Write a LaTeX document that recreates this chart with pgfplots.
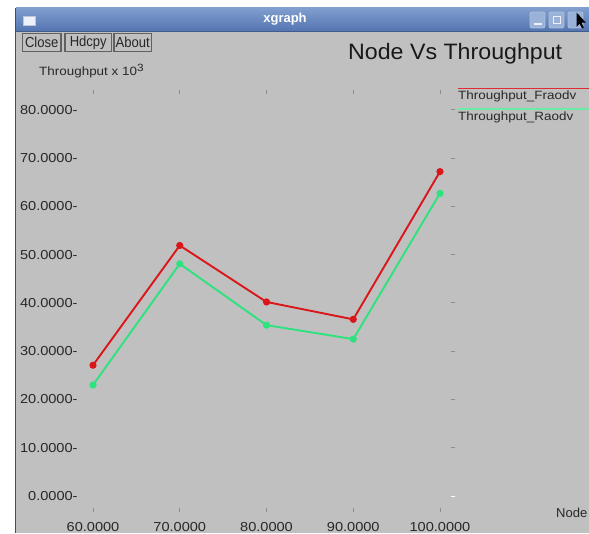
\documentclass[border=0pt]{standalone}
\usepackage{pgfplots}
\pgfplotsset{compat=1.18}
\usepackage{fontspec}
\setmainfont{Liberation Sans}
\newfontfamily\tickfont[FakeStretch=1.12]{Liberation Sans}
\newfontfamily\titlefont[FakeStretch=1.04]{Liberation Sans}
\newfontfamily\btnfont[FakeStretch=0.9]{Liberation Sans}

\definecolor{winGray}{RGB}{192,192,192}
\definecolor{tbTop}{RGB}{128,158,206}
\definecolor{tbBot}{RGB}{82,116,176}
\definecolor{lineRed}{RGB}{218,22,26}
\definecolor{lineGreen}{RGB}{46,226,126}
\definecolor{txt}{RGB}{40,40,40}

\begin{document}
\begin{tikzpicture}[x=1pt,y=1pt]
\useasboundingbox (0,0) rectangle (589,533);
\fill[white] (0,0) rectangle (589,533);

% window body and frame
\fill[winGray] (15,0) rectangle (589,525);
\draw[black!70, line width=1.2pt] (15.6,0) -- (15.6,525);

% title bar
\shade[top color=tbTop, bottom color=tbBot] (16.2,501.5) rectangle (589,525);
\draw[tbBot!80!black, line width=0.6pt] (16.2,501.5) -- (589,501.5);
\node[white, font=\bfseries\fontsize{13}{15}\selectfont] at (285,513.5) {xgraph};
% window menu icon
\fill[white!85!tbTop, draw=white!60!tbBot, line width=0.6pt] (23,507.5) rectangle (35,516.5);
% title bar controls
\foreach \xa in {530,549,568}{
  \fill[tbTop!80!white, draw=white!55!tbBot, line width=0.8pt, rounded corners=2pt]
    (\xa,505) rectangle ++(15,16);
}
\draw[white!85!tbTop, line width=1.4pt] (533.5,509) -- (541.5,509);
\draw[white!85!tbTop, line width=1pt] (553,509) rectangle (560,516);
\fill[black] (576.5,520.5) -- (576.5,506) -- (579.6,509.4) -- (582,504.5) -- (583.8,505.4) -- (581.5,510.2) -- (585.8,510.5) -- cycle;

% xgraph buttons
\foreach \xa/\xb/\lbl in {22.5/61/Close, 65/111.5/Hdcpy, 114/151.5/About}{
  \draw[black!62, line width=1.3pt] (\xa,481.5) rectangle (\xb,499.5);
  \node[txt, font=\btnfont\fontsize{14.5}{16}\selectfont, inner sep=0pt]
    at ({(\xa+\xb)/2},490.3) {\lbl};
}

% y unit label and title
\node[txt, anchor=base west, inner sep=0pt, font=\tickfont\fontsize{12}{14}\selectfont]
  at (39,457) {Throughput x 10\raisebox{4.5pt}{\fontsize{10.5}{12}\selectfont 3}};
\node[black!90, anchor=base west, inner sep=0pt, font=\titlefont\fontsize{22.3}{26}\selectfont]
  at (348,473.7) {Node Vs Throughput};

% lower left corner of the plotting area
\coordinate (plotSW) at (80pt,23pt);

\begin{axis}[
  at={(plotSW)}, anchor=south west,
  scale only axis, width=373pt, height=418pt,
  xmin=58.5, xmax=101.5, ymin=-2.9, ymax=83.7,
  axis line style={draw=none},
  xtick={60,70,80,90,100}, ytick={10,20,...,80},
  xtick pos=both, xticklabel pos=left,
  ytick pos=right, yticklabel pos=left,
  tick align=center, major tick length=4.5pt,
  tick style={black!45, line width=0.9pt},
  extra y ticks={0},
  extra y tick style={tick style={white, line width=0.9pt}},
  /pgf/number format/assume math mode=true,
  xticklabel={\pgfmathprintnumber[fixed,fixed zerofill,precision=4]{\tick}},
  yticklabel={\pgfmathprintnumber[fixed,fixed zerofill,precision=4]{\tick}-},
  ticklabel style={font=\tickfont\fontsize{13}{15}\selectfont, text=txt, inner sep=0pt},
  yticklabel style={anchor=east},
  xticklabel style={anchor=north, yshift=-10pt},
  clip=false,
]
\addplot[lineRed, line width=1.9pt, mark=*, mark size=2.6pt, mark options={fill=lineRed, draw=lineRed}]
  coordinates {(60,27.1) (70,51.9) (80,40.2) (90,36.6) (100,67.2)};
\addplot[lineGreen, line width=1.9pt, mark=*, mark size=2.6pt, mark options={fill=lineGreen, draw=lineGreen}]
  coordinates {(60,23.0) (70,48.1) (80,35.4) (90,32.5) (100,62.7)};
\end{axis}

% x axis name
\node[txt, anchor=west, inner sep=0pt, font=\fontsize{13}{15}\selectfont] at (556,20) {Node};

% legend
\draw[lineRed!90!white, line width=1.6pt] (458,444.5) -- (589,444.5);
\node[txt, anchor=base west, inner sep=0pt, font=\tickfont\fontsize{12}{14}\selectfont] at (458,433) {Throughput\_Fraodv};
\draw[lineGreen!70!white, line width=1.6pt] (458,424) -- (589,424);
\node[txt, anchor=base west, inner sep=0pt, font=\tickfont\fontsize{12}{14}\selectfont] at (458,412) {Throughput\_Raodv};
\end{tikzpicture}
\end{document}
